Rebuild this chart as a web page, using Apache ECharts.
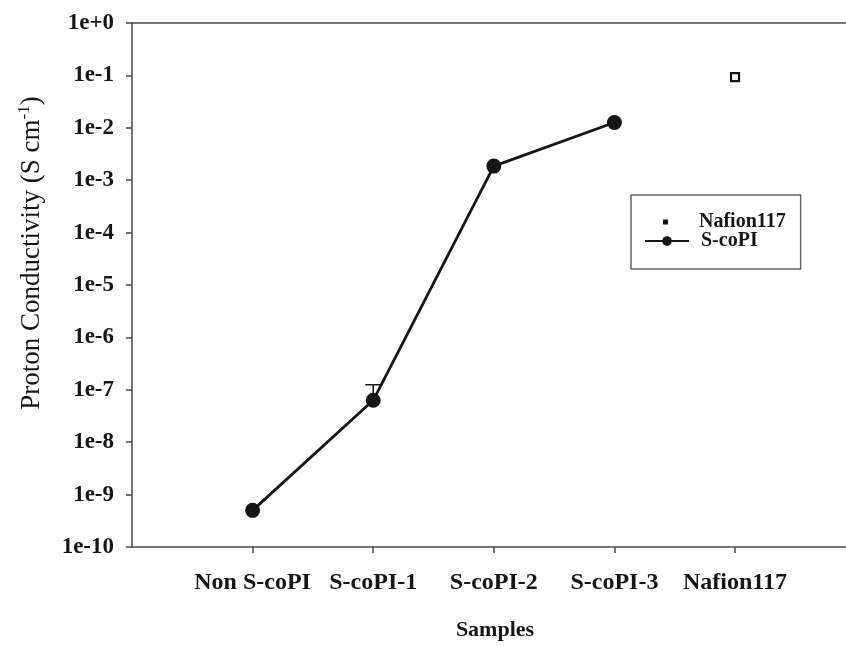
<!DOCTYPE html>
<html>
<head>
<meta charset="utf-8">
<script src="https://cdn.jsdelivr.net/npm/echarts@6/dist/echarts.min.js"></script>
<style>html,body{margin:0;padding:0;background:#fff}#c{width:846px;height:646px}</style>
</head>
<body>
<div id="c"></div>
<script>
// ---- data ----
const categories = ['Non S-coPI', 'S-coPI-1', 'S-coPI-2', 'S-coPI-3', 'Nafion117'];
const scopiSamples = ['Non S-coPI', 'S-coPI-1', 'S-coPI-2', 'S-coPI-3'];
const scopiValues = [5.0e-10, 6.3e-8, 1.86e-3, 1.26e-2];
const scopiErrUpper = [null, 1.25e-7, null, null];
const nafionSamples = ['Nafion117'];
const nafionValues = [0.093];
const yTickLabels = ['1e-10','1e-9','1e-8','1e-7','1e-6','1e-5','1e-4','1e-3','1e-2','1e-1','1e+0'];

const pos = name => categories.indexOf(name) + 1;
const scopiData = scopiSamples.map((s, i) => [pos(s), scopiValues[i]]);
const nafionData = nafionSamples.map((s, i) => [pos(s), nafionValues[i]]);
const errData = scopiSamples.map((s, i) => scopiErrUpper[i] == null ? null : [pos(s), scopiValues[i], scopiErrUpper[i]]).filter(d => d);
const catTicks = categories.map((c, i) => i + 1);

const FONT = 'Liberation Serif';
const INK = '#151515';
const AXIS = { color: '#4a4a4a', width: 1.5 };

const chart = echarts.init(document.getElementById('c'));
chart.setOption({
  animation: false,
  backgroundColor: '#fff',
  grid: { left: 132, right: 0, top: 23, height: 530 },
  xAxis: [{
    type: 'value', min: 0, max: 5.92,
    name: 'Samples', nameLocation: 'middle', nameGap: 72,
    nameTextStyle: { fontFamily: FONT, fontWeight: 'bold', fontSize: 22, color: INK, padding: [0, 0, 0, 12] },
    axisLine: { lineStyle: AXIS },
    axisTick: { customValues: catTicks, length: 6, lineStyle: AXIS },
    axisLabel: { customValues: catTicks, margin: 24, fontFamily: FONT, fontWeight: 'bold', fontSize: 24, color: INK,
      formatter: v => categories[Math.round(v) - 1] || '' },
    splitLine: { show: false }
  }, {
    type: 'value', position: 'top', min: 0, max: 5.92,
    axisLine: { show: true, lineStyle: AXIS }, axisTick: { show: false }, axisLabel: { show: false }, splitLine: { show: false }
  }],
  yAxis: {
    type: 'log', logBase: 10, min: 1e-10, max: 1, interval: 1,
    name: '{a|Proton Conductivity (S cm}{sup|-1}{a|)}', nameLocation: 'middle', nameGap: 84, nameRotate: 90,
    nameTextStyle: { color: INK, padding: [0, 0, 0, 64],
      rich: { a: { fontFamily: FONT, fontSize: 27, color: INK },
              sup: { fontFamily: FONT, fontSize: 17, color: INK, padding: [0, 0, 15, 0] } } },
    axisLine: { show: true, lineStyle: AXIS },
    axisTick: { show: true, length: 6, lineStyle: AXIS },
    axisLabel: { margin: 18, fontFamily: FONT, fontWeight: 'bold', fontSize: 23, color: INK,
      formatter: v => yTickLabels[Math.round(Math.log10(v)) + 10] },
    splitLine: { show: false }
  },
  legend: [
    { data: [{ name: 'Nafion117', icon: 'rect', itemStyle: { color: INK, borderColor: INK, borderWidth: 0 } }],
      left: 631, top: 195, orient: 'vertical', itemWidth: 5, itemHeight: 5, padding: [17, 8, 0, 32],
      textStyle: { fontFamily: FONT, fontWeight: 'bold', fontSize: 20, color: INK, padding: [0, 0, 0, 26] } },
    { data: ['S-coPI'],
      left: 631, top: 195, orient: 'vertical', itemWidth: 44, itemHeight: 12, padding: [36, 43, 18, 13],
      borderColor: '#666', borderWidth: 1.5,
      textStyle: { fontFamily: FONT, fontWeight: 'bold', fontSize: 20, color: INK, padding: [0, 0, 0, 7] } }
  ],
  series: [
    { name: 'S-coPI-err', type: 'custom', z: 1, data: errData,
      renderItem: (params, api) => {
        const p = api.coord([api.value(0), api.value(1)]);
        const q = api.coord([api.value(0), api.value(2)]);
        const st = { stroke: INK, lineWidth: 1.5 };
        return { type: 'group', children: [
          { type: 'line', shape: { x1: p[0], y1: p[1], x2: q[0], y2: q[1] }, style: st },
          { type: 'line', shape: { x1: q[0] - 8, y1: q[1], x2: q[0] + 8, y2: q[1] }, style: st }
        ] };
      } },
    { name: 'Nafion117', type: 'scatter', z: 3, data: nafionData, symbol: 'rect', symbolSize: 8,
      itemStyle: { color: '#fff', borderColor: INK, borderWidth: 2.2, opacity: 1 } },
    { name: 'S-coPI', type: 'line', z: 4, data: scopiData, symbol: 'circle', symbolSize: 15, showAllSymbol: true,
      lineStyle: { color: INK, width: 2.8 }, itemStyle: { color: INK } }
  ]
});
</script>
</body>
</html>
